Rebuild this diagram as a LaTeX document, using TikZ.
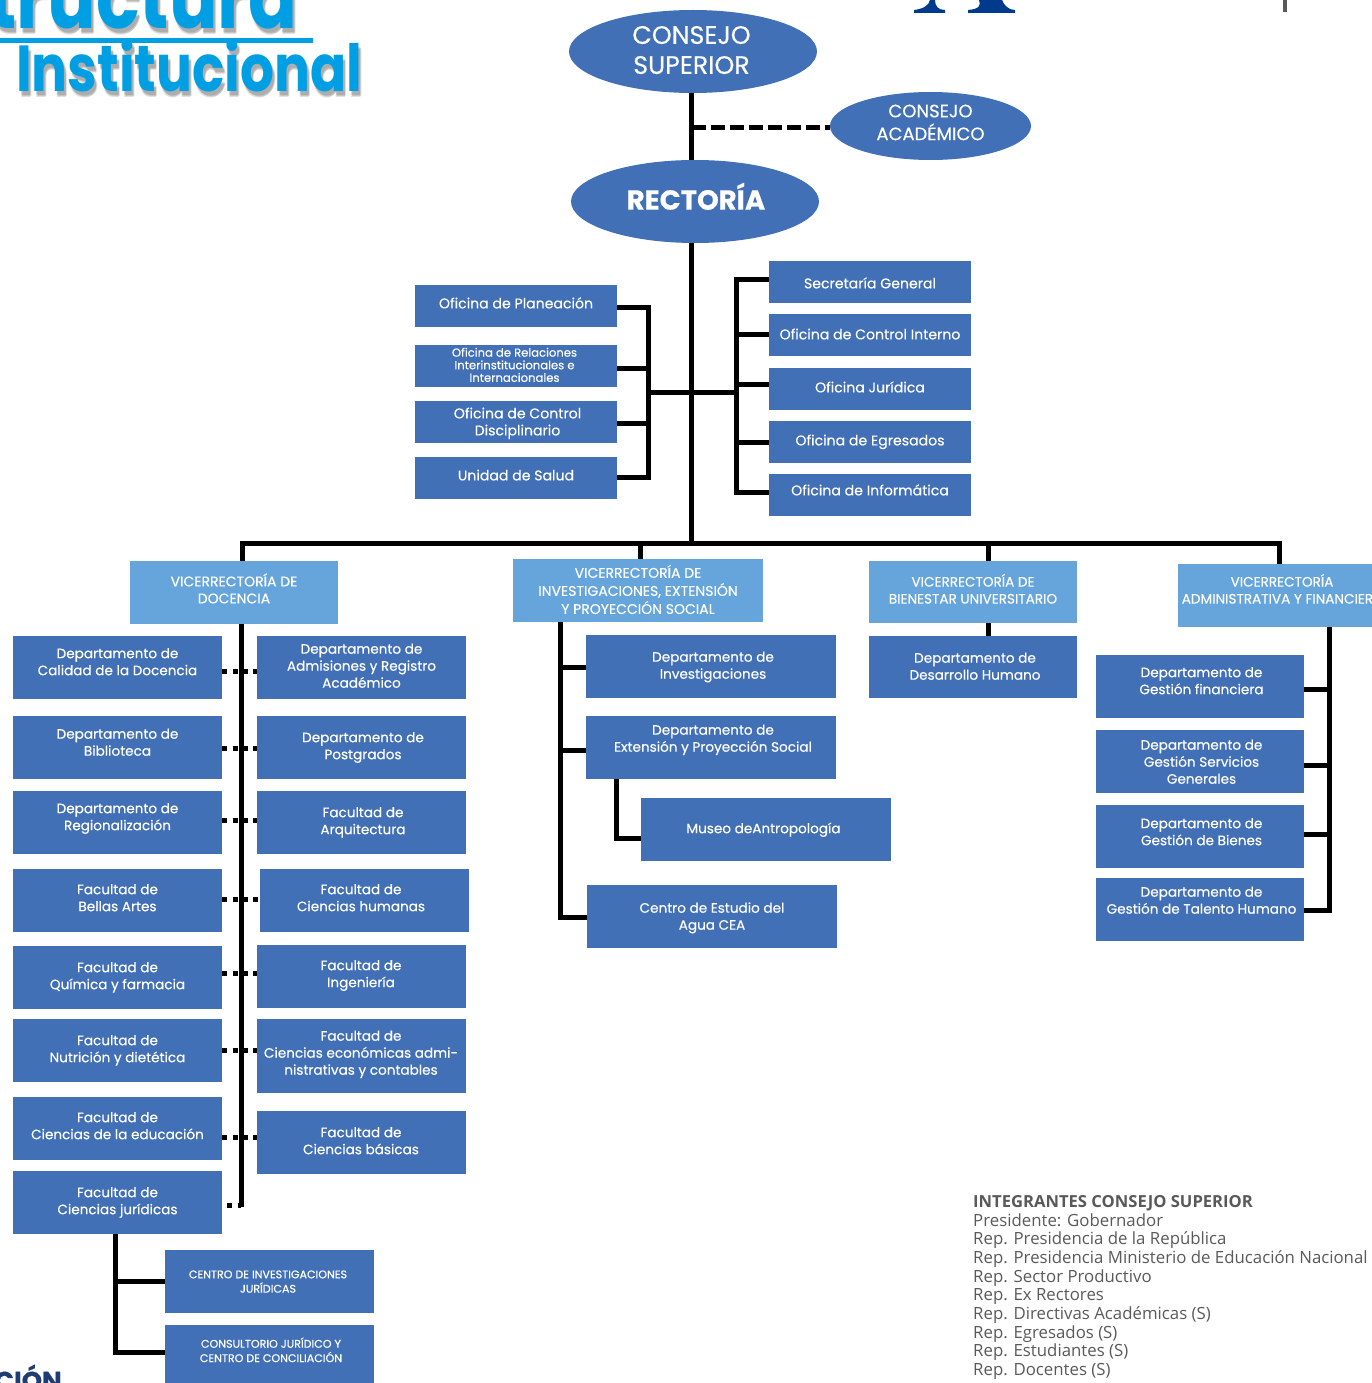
\documentclass[tikz,border=0pt]{standalone}
\usepackage{fontspec}
\usetikzlibrary{shapes.geometric,calc}
\setmainfont{Poppins}[FakeBold=0.35]
\newfontfamily\listfont{Open Sans}
\newfontfamily\titlefont{Poppins}[FakeStretch=0.82]
\definecolor{boxblue}{HTML}{4270B7}
\definecolor{headblue}{HTML}{65A5DC}
\definecolor{titleblue}{HTML}{009FE3}
\definecolor{logoblue}{HTML}{003A8C}
\definecolor{listgrey}{HTML}{595959}
\definecolor{cionblue}{HTML}{1F3C73}
\newcommand{\lbl}[3]{\raisebox{\dimexpr-#2pt-0.36em\relax}[0pt][0pt]{\makebox[0pt]{\hspace*{#1pt}\hspace*{#1pt}\begin{tabular}{@{}c@{}}#3\end{tabular}}}}
\newcommand{\bx}[9][]{\node[boxnode,#1,minimum width={(#5-#3)*1pt},minimum height={(#6-#4)*1pt}] (#2) at ({(#3+#5)/2},{(#4+#6)/2}) {\lbl{#7}{#8}{#9}};}
\newcommand{\dotc}[3]{\draw[dotconn] (#1.east |- 0,#3) -- (#2.west |- 0,#3);}
\tikzset{
 boxnode/.style={draw=none,fill=boxblue,text=white,inner sep=0pt,font=\fontsize{13.6}{17}\selectfont},
 officenode/.style={font=\fontsize{14.1}{17}\selectfont},
 headnode/.style={fill=headblue,font=\fontsize{14}{17}\selectfont},
 headnarrow/.style={fill=headblue,font=\fontsize{13.6}{17}\selectfont},
 smallthree/.style={font=\fontsize{11.6}{12.5}\selectfont},
 smallcaps/.style={font=\fontsize{11.1}{13.5}\selectfont},
 ovalnode/.style={ellipse,fill=boxblue,text=white,inner sep=0pt},
 conn/.style={draw=black,line width=5pt,line join=miter},
 dashconn/.style={draw=black,line width=5pt,dash pattern=on 14pt off 5pt},
 dotconn/.style={draw=black,line width=5pt,dash pattern=on 5pt off 5.3pt},
 bigtitle/.style={inner sep=0pt,anchor=base east,font=\titlefont\bfseries\fontsize{88}{88}\selectfont},
 subtitle/.style={inner sep=0pt,anchor=base west,font=\titlefont\bfseries\fontsize{65}{65}\selectfont},
 shade/.style={text=black,text opacity=0.12},
 listnode/.style={text=listgrey,inner sep=0pt,anchor=base west,font=\listfont\fontsize{16.8}{18.7}\selectfont}
}
\begin{document}
\begin{tikzpicture}[x=1pt,y=-1pt]
\useasboundingbox (0,0) rectangle (1372,1383);
\clip (0,0) rectangle (1372,1383);
% title
\foreach \dx/\dy in {2/4,3/5,2/6}{
 \node[bigtitle,shade] at (298+\dx,29+\dy) {tructura};
 \node[subtitle,shade] at (16+\dx,92+\dy) {Institucional};
}
\node[bigtitle,text=titleblue] (tit1) at (298,29) {tructura};
\fill[titleblue] (0,38) rectangle (313,43);
\node[subtitle,text=titleblue] (tit2) at (16,92) {Institucional};
% logo fragments
\fill[logoblue] (914,13) -- (945,13) -- (945,10) .. controls (938,10) and (935,6) .. (935,0) -- (930,0) .. controls (929,6) and (922,9) .. (914,10) -- cycle;
\fill[logoblue] (968,13) -- (1015,13) -- (1015,10) .. controls (1008,10) and (1004,5) .. (1002,0) -- (979,0) .. controls (981,5) and (980,9) .. (968,10) -- cycle;
\fill[listgrey] (1283,0) rectangle (1287,12);
\node[anchor=base west,inner sep=0pt,text=cionblue,font=\bfseries\fontsize{26}{26}\selectfont] (cion) at (-6,1390) {CIÓN};
% top ovals
\node[ovalnode,minimum width=248pt,minimum height=83pt,font=\fontsize{25.3}{30}\selectfont] (cs) at (693,51.5) {\lbl{-1.5}{-1.5}{CONSEJO\\SUPERIOR}};
\node[ovalnode,minimum width=201pt,minimum height=68pt,font=\fontsize{18}{20.5}\selectfont] (ca) at (930.5,126) {\lbl{0}{-3.5}{CONSEJO\\ACADÉMICO}};
\node[ovalnode,minimum width=248pt,minimum height=83pt,font=\bfseries\fontsize{27.6}{30}\selectfont] (rect) at (695,201.5) {\lbl{1}{-4.5}{RECTORÍA}};
% offices
\bx[officenode]{pl}{415}{285}{617}{327}{0}{-2.5}{Oficina de Planeación}
\bx[smallthree]{rel}{415}{345}{617}{387}{-1.5}{-0.5}{Oficina de Relaciones\\Interinstitucionales e\\Internacionales}
\bx[officenode]{dis}{415}{401}{617}{443}{1.5}{0}{Oficina de Control\\Disciplinario}
\bx[officenode]{sal}{415}{457}{617}{499}{0}{-2.5}{Unidad de Salud}
\bx[officenode]{sec}{769}{261}{971}{303}{0}{1.5}{Secretaría General}
\bx[officenode]{coi}{769}{314}{971}{356}{0}{-0.5}{Oficina de Control Interno}
\bx[officenode]{jur}{769}{368}{971}{410}{0}{-1.5}{Oficina Jurídica}
\bx[officenode]{egr}{769}{421}{971}{463}{0}{-1.5}{Oficina de Egresados}
\bx[officenode]{inf}{769}{474}{971}{516}{0}{-4.5}{Oficina de Informática}
% vice-rectorates
\bx[headnode]{vdo}{130}{561}{338}{624}{0}{-3}{VICERRECTORÍA DE\\DOCENCIA}
\bx[headnode]{vin}{513}{559}{763}{622}{0}{0}{VICERRECTORÍA DE\\INVESTIGACIONES, EXTENSIÓN\\Y PROYECCIÓN SOCIAL}
\bx[headnarrow]{vbi}{869}{561}{1077}{623}{0}{-2}{VICERRECTORÍA DE\\BIENESTAR UNIVERSITARIO}
\bx[headnarrow]{vad}{1178}{564}{1386}{627}{0}{-5.5}{VICERRECTORÍA\\ADMINISTRATIVA Y FINANCIERA}
% left column
\bx{l1}{13}{636}{222}{699}{0}{-5.5}{Departamento de\\Calidad de la Docencia}
\bx{l2}{13}{716}{222}{779}{0}{-5}{Departamento de\\Biblioteca}
\bx{l3}{13}{791}{222}{854}{0}{-5.5}{Departamento de\\Regionalización}
\bx{l4}{13}{869}{222}{932}{0}{-2.5}{Facultad de\\Bellas Artes}
\bx{l5}{13}{946}{222}{1009}{0}{-1.5}{Facultad de\\Química y farmacia}
\bx{l6}{13}{1019}{222}{1082}{0}{-1.5}{Facultad de\\Nutrición y dietética}
\bx{l7}{13}{1097}{222}{1160}{0}{-2.5}{Facultad de\\Ciencias de la educación}
\bx{l8}{13}{1171}{222}{1234}{0}{-1.5}{Facultad de\\Ciencias jurídicas}
% right column
\bx{r1}{257}{636}{466}{699}{0}{-1.5}{Departamento de\\Admisiones y Registro\\Académico}
\bx{r2}{257}{716}{466}{779}{1.5}{-1.5}{Departamento de\\Postgrados}
\bx{r3}{257}{791}{466}{854}{1.5}{-1.5}{Facultad de\\Arquitectura}
\bx{r4}{260}{869}{469}{932}{-3.5}{-2.5}{Facultad de\\Ciencias humanas}
\bx{r5}{257}{945}{466}{1008}{-0.5}{-2.5}{Facultad de\\Ingeniería}
\bx{r6}{257}{1019}{466}{1093}{-0.5}{-3}{Facultad de\\Ciencias económicas admi-\\nistrativas y contables}
\bx{r7}{257}{1111}{466}{1174}{-0.5}{-1.5}{Facultad de\\Ciencias básicas}
% law centres
\bx[smallcaps]{c1}{165}{1250}{374}{1313}{-1.5}{0}{CENTRO DE INVESTIGACIONES\\JURÍDICAS}
\bx[smallcaps]{c2}{165}{1325}{374}{1388}{1.5}{-6}{CONSULTORIO JURÍDICO Y\\CENTRO DE CONCILIACIÓN}
% research column
\bx{d1}{586}{635}{836}{698}{2}{-1}{Departamento de\\Investigaciones}
\bx{d2}{586}{716}{836}{779}{2}{-9}{Departamento de\\Extensión y Proyección Social}
\bx{d3}{641}{798}{891}{861}{-2.5}{-1}{Museo deAntropología}
\bx{d4}{587}{885}{837}{948}{0}{0}{Centro de Estudio del\\Agua CEA}
% welfare
\bx{b1}{869}{636}{1077}{698}{2}{-0.5}{Departamento de\\Desarrollo Humano}
% admin column
\bx{a1}{1096}{655}{1304}{718}{1.5}{-5.5}{Departamento de\\Gestión financiera}
\bx{a2}{1096}{730}{1304}{793}{1.5}{0.5}{Departamento de\\Gestión Servicios\\Generales}
\bx{a3}{1096}{805}{1304}{868}{1.5}{-4.5}{Departamento de\\Gestión de Bienes}
\bx{a4}{1096}{878}{1304}{941}{1.5}{-9}{Departamento de\\Gestión de Talento Humano}
% bus coordinates
\coordinate (busL) at (648,392);
\coordinate (busR) at (736,392);
\coordinate (spine) at (691.5,392);
\coordinate (hbus) at (691.5,543);
\coordinate (hbusL) at (242,543);
\coordinate (hbusR) at (1279.5,543);
% spine
\draw[conn] (cs.south -| spine) -- (rect.north -| spine);
\draw[conn] (rect.south -| spine) -- (hbus);
\draw[dashconn] (spine |- 0,128) -- (ca.west |- 0,128);
\draw[conn] (busL) -- (busR);
% left offices
\draw[conn] (pl.east |- 0,307) -| (busL);
\draw[conn] (rel.east |- 0,368) -| (busL);
\draw[conn] (dis.east |- 0,423) -| (busL);
\draw[conn] (sal.east |- 0,477) -| (busL);
% right offices
\draw[conn] (sec.west |- 0,279) -| (busR);
\draw[conn] (coi.west |- 0,334) -| (busR);
\draw[conn] (jur.west |- 0,384) -| (busR);
\draw[conn] (egr.west |- 0,442) -| (busR);
\draw[conn] (inf.west |- 0,492) -| (busR);
% horizontal bus and drops
\draw[conn] (vdo.north -| hbusL) |- (hbus);
\draw[conn] (vad.north -| hbusR) |- (hbus);
\coordinate (dropI) at (640.5,543);
\coordinate (dropB) at (988.5,543);
\draw[conn] (dropI) -- (vin.north -| dropI);
\draw[conn] (dropB) -- (vbi.north -| dropB);
\draw[conn] (vbi.south -| dropB) -- (b1.north -| dropB);
% docencia spine and dotted links
\coordinate (dsp) at (241,1207);
\draw[conn] (vdo.south -| dsp) -- (dsp);
\dotc{l1}{r1}{671}
\dotc{l2}{r2}{748}
\dotc{l3}{r3}{820}
\dotc{l4}{r4}{899}
\dotc{l5}{r5}{973}
\dotc{l6}{r6}{1050}
\dotc{l7}{r7}{1137}
\draw[dotconn,dash phase=5.3pt] (l8.east |- 0,1205) -- (dsp |- 0,1205);
% law links
\coordinate (lawx) at (115,1352);
\draw[conn] (l8.south -| lawx) -- (lawx) -- (c2.west |- lawx);
\draw[conn] (c1.west |- 0,1281) -| (lawx);
% research links
\coordinate (invx) at (560,917.5);
\draw[conn] (vin.south -| invx) -- (invx) -- (d4.west |- invx);
\draw[conn] (d1.west |- 0,667) -| (invx);
\draw[conn] (d2.west |- 0,750) -| (invx);
\coordinate (musx) at (616,838);
\draw[conn] (d2.south -| musx) -- (musx) -- (d3.west |- musx);
% admin links
\coordinate (admx) at (1329,910.5);
\draw[conn] (vad.south -| admx) -- (admx) -- (a4.east |- admx);
\draw[conn] (a1.east |- 0,689) -| (admx);
\draw[conn] (a2.east |- 0,765) -| (admx);
\draw[conn] (a3.east |- 0,834) -| (admx);
% member list
\node[listnode,font=\listfont\bfseries\fontsize{16.6}{18.7}\selectfont] (m0) at (973,1207) {INTEGRANTES CONSEJO SUPERIOR};
\node[listnode] (m1) at (973,1226) {Presidente: Gobernador};
\node[listnode] (m2) at (973,1244.4) {Rep. Presidencia de la República};
\node[listnode] (m3) at (973,1263.1) {Rep. Presidencia Ministerio de Educación Nacional};
\node[listnode] (m4) at (973,1282) {Rep. Sector Productivo};
\node[listnode] (m5) at (973,1300.7) {Rep. Ex Rectores};
\node[listnode] (m6) at (973,1319.2) {Rep. Directivas Académicas (S)};
\node[listnode] (m7) at (973,1338) {Rep. Egresados (S)};
\node[listnode] (m8) at (973,1356.6) {Rep. Estudiantes (S)};
\node[listnode] (m9) at (973,1375.3) {Rep. Docentes (S)};
\end{tikzpicture}
\end{document}
